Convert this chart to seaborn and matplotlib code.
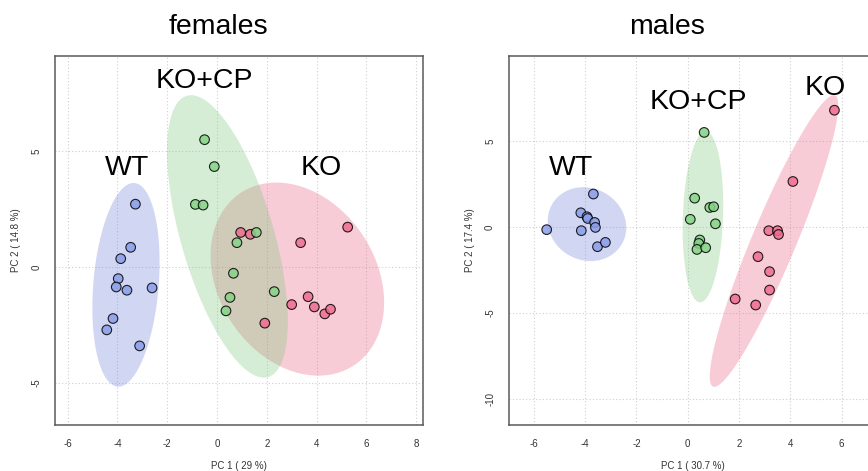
import numpy as np
import pandas as pd
import matplotlib
matplotlib.use("Agg")
import matplotlib.pyplot as plt
import seaborn as sns

# group order as drawn (KO first, KO+CP on top of it, WT last)
groups = ["KO", "KO+CP", "WT"]
fill_colors = {"KO": "#E8587D", "KO+CP": "#76C676", "WT": "#697DDA"}
point_colors = {"KO": "#EE6C8E", "KO+CP": "#86D286", "WT": "#8A9DE8"}

# females, PC1 / PC2 scores
f_wt_x = [-3.28, -3.47, -3.87, -3.97, -4.05, -3.62, -2.61, -4.18, -4.43, -3.11]
f_wt_y = [2.71, 0.85, 0.36, -0.50, -0.86, -1.00, -0.90, -2.22, -2.71, -3.40]
f_cp_x = [-0.50, -0.11, -0.87, -0.56, 1.58, 0.80, 0.66, 0.52, 0.36, 2.30]
f_cp_y = [5.49, 4.33, 2.70, 2.67, 1.49, 1.05, -0.27, -1.31, -1.89, -1.06]
f_ko_x = [0.95, 1.34, 3.36, 5.25, 1.92, 3.00, 3.66, 3.91, 4.33, 4.56]
f_ko_y = [1.49, 1.41, 1.05, 1.72, -2.42, -1.62, -1.28, -1.72, -2.02, -1.82]

# males
m_wt_x = [-3.68, -4.17, -3.93, -3.90, -3.63, -3.60, -4.15, -5.50, -3.52, -3.21]
m_wt_y = [1.92, 0.83, 0.60, 0.50, 0.27, -0.02, -0.21, -0.15, -1.14, -0.89]
m_cp_x = [0.64, 0.27, 0.86, 1.01, 0.10, 1.08, 0.47, 0.43, 0.36, 0.70]
m_cp_y = [5.50, 1.68, 1.14, 1.18, 0.45, 0.19, -0.75, -0.95, -1.30, -1.20]
m_ko_x = [5.72, 4.10, 3.16, 3.50, 3.54, 2.74, 3.19, 3.19, 1.85, 2.65]
m_ko_y = [6.79, 2.65, -0.21, -0.21, -0.43, -1.72, -2.59, -3.66, -4.18, -4.53]

f_xticks = [-6, -4, -2, 0, 2, 4, 6, 8]
f_yticks = [-5, 0, 5]
m_xticks = [-6, -4, -2, 0, 2, 4, 6]
m_yticks = [-10, -5, 0, 5]


def make_df(wt_x, wt_y, cp_x, cp_y, ko_x, ko_y):
    parts = []
    for g, xs, ys in [("KO", ko_x, ko_y), ("KO+CP", cp_x, cp_y), ("WT", wt_x, wt_y)]:
        parts.append(pd.DataFrame({"PC1": xs, "PC2": ys, "group": g}))
    return pd.concat(parts, ignore_index=True)


def draw_ellipse(ax, d, color):
    # 95% confidence ellipse from the group covariance
    pts = d[["PC1", "PC2"]].to_numpy()
    mu = pts.mean(axis=0)
    vals, vecs = np.linalg.eigh(np.cov(pts.T))
    t = np.linspace(0, 2 * np.pi, 300)
    circ = np.column_stack([np.cos(t), np.sin(t)])
    ell = (circ * np.sqrt(vals)) @ vecs.T * np.sqrt(5.991) + mu
    ax.fill(ell[:, 0], ell[:, 1], color=color, alpha=0.3, lw=0, zorder=1)


def panel(ax, df, xlab, ylab, xticks, yticks, xlim, ylim, labels):
    for g in groups:
        draw_ellipse(ax, df[df["group"] == g], fill_colors[g])
    sns.scatterplot(data=df, x="PC1", y="PC2", hue="group", hue_order=groups,
                    palette=point_colors, s=48, alpha=0.85, edgecolor="black",
                    linewidth=0.8, legend=False, ax=ax, zorder=3)
    ax.set_xlim(xlim)
    ax.set_ylim(ylim)
    ax.set_xticks(xticks)
    ax.set_yticks(yticks)
    ax.grid(True, linestyle=(0, (1, 2)), color="#cfcfcf", linewidth=0.8)
    ax.set_axisbelow(True)
    for sp in ax.spines.values():
        sp.set_visible(True)
        sp.set_color("#5a5a5a")
        sp.set_linewidth(1.1)
    ax.tick_params(direction="out", length=5, width=1, color="#444444",
                   labelsize=7, labelcolor="#333333", pad=5)
    ax.tick_params(axis="y", labelrotation=90)
    for lab in ax.get_yticklabels():
        lab.set_va("center")
    ax.set_xlabel(xlab, fontsize=7, color="#333333", labelpad=9)
    ax.set_ylabel(ylab, fontsize=7, color="#333333", labelpad=7)
    for txt, x, y in labels:
        ax.text(x, y, txt, fontsize=20.5, ha="center", va="baseline", color="black", zorder=4)


sns.set_style("white")
plt.rcParams["font.family"] = ["Liberation Sans", "DejaVu Sans"]
plt.rcParams["axes.unicode_minus"] = False

fig = plt.figure(figsize=(8.68, 4.71), dpi=100)
ax1 = fig.add_axes([0.0634, 0.0977, 0.424, 0.783])
ax2 = fig.add_axes([0.5864, 0.0977, 0.4228, 0.783])

df_f = make_df(f_wt_x, f_wt_y, f_cp_x, f_cp_y, f_ko_x, f_ko_y)
df_m = make_df(m_wt_x, m_wt_y, m_cp_x, m_cp_y, m_ko_x, m_ko_y)

panel(ax1, df_f, "PC 1 ( 29 %)", "PC 2 ( 14.8 %)", f_xticks, f_yticks,
      (-6.51, 8.28), (-6.81, 9.09),
      [("KO+CP", -0.51, 7.70), ("WT", -3.63, 3.97), ("KO", 4.18, 3.97)])
panel(ax2, df_m, "PC 1 ( 30.7 %)", "PC 2 ( 17.4 %)", m_xticks, m_yticks,
      (-6.97, 7.34), (-11.5, 9.93),
      [("WT", -4.54, 3.02), ("KO+CP", 0.42, 6.85), ("KO", 5.37, 7.66)])

fig.text(218 / 868, 1 - 34 / 471, "females", fontsize=20.5, ha="center", va="baseline", color="black")
fig.text(667 / 868, 1 - 34 / 471, "males", fontsize=20.5, ha="center", va="baseline", color="black")

fig.savefig("out.png", dpi=100)
